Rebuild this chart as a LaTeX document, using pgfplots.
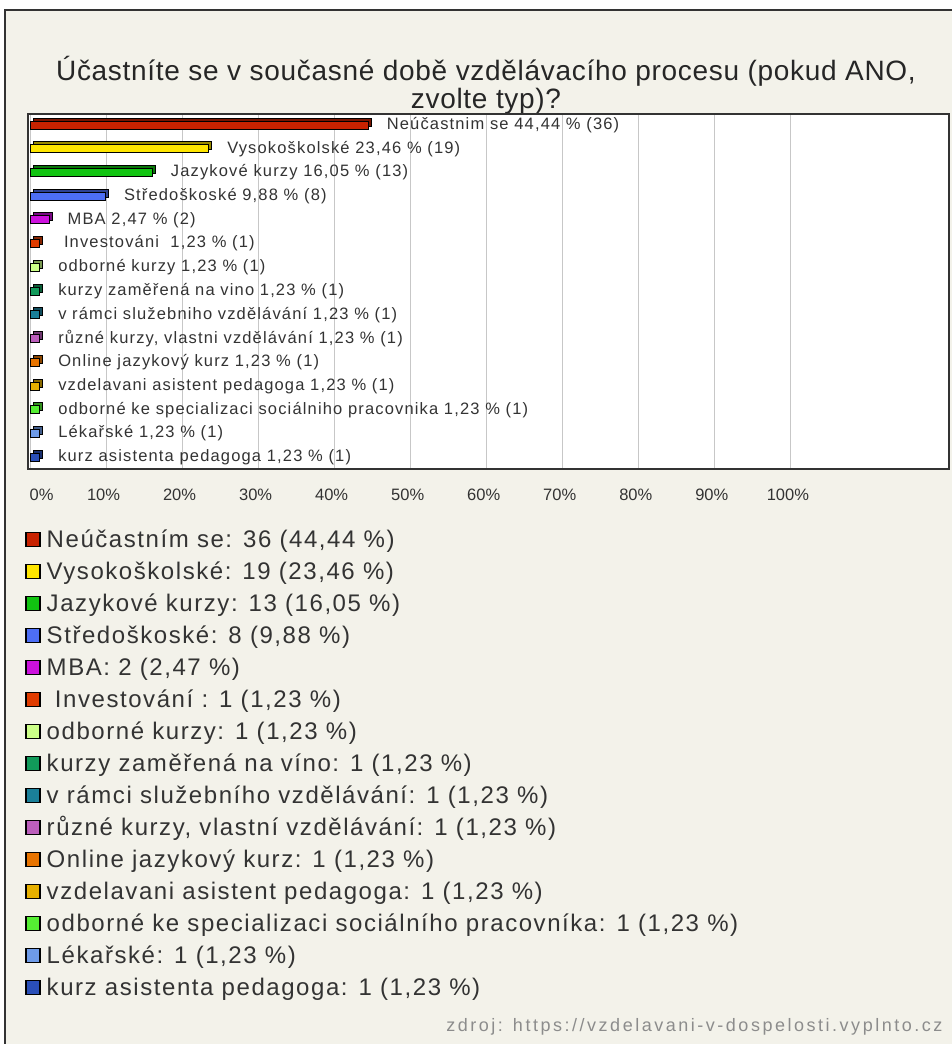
\documentclass[border=0pt]{standalone}
\usepackage{fontspec}
\setmainfont{Liberation Sans}
\newfontfamily\titlefont[LetterSpace=2.5]{Liberation Sans}
\newfontfamily\legfont[LetterSpace=6.5]{Liberation Sans}
\newfontfamily\barfont[LetterSpace=7]{Liberation Sans}
\newfontfamily\srcfont[LetterSpace=14]{Liberation Sans}
\usepackage{pgfplots}
\pgfplotsset{compat=1.18}
\definecolor{bg}{HTML}{F3F2EA}
\definecolor{cA}{HTML}{C82200}
\definecolor{cB}{HTML}{FFE600}
\definecolor{cC}{HTML}{11C411}
\definecolor{cD}{HTML}{4D6EF5}
\definecolor{cE}{HTML}{CC11DD}
\definecolor{cF}{HTML}{E03C00}
\definecolor{cG}{HTML}{CCFF88}
\definecolor{cH}{HTML}{119A5A}
\definecolor{cI}{HTML}{1A7F99}
\definecolor{cJ}{HTML}{BB5EBB}
\definecolor{cK}{HTML}{E87400}
\definecolor{cL}{HTML}{E6B000}
\definecolor{cM}{HTML}{55EE33}
\definecolor{cN}{HTML}{6E9BE8}
\definecolor{cO}{HTML}{2A4FB8}
\definecolor{txt}{HTML}{333333}
% #1 row, #2 value, #3 colour, #4 bar label, #5 legend text
\newcommand{\onebar}[5]{%
  \addplot[fill=#3!60!black, xshift=3pt, yshift=3pt, forget plot] coordinates {(#2,#1)};
  \addplot[fill=#3, nodes near coords, point meta=explicit symbolic] coordinates {(#2,#1) [#4]};
  \addlegendentry{#5}
}
\begin{document}
\begin{tikzpicture}[x=1pt,y=1pt]
\useasboundingbox (0,0) rectangle (952,-1044);
\fill[bg] (5,-10) rectangle (960,-1050);
\draw[line width=2pt, black!80] (5,-1050) -- (5,-10) -- (960,-10);
\node[font=\titlefont\fontsize{28}{28}\selectfont, align=center, text=black!85] at (486,-85)
  {Účastníte se v současné době vzdělávacího procesu (pokud ANO,\\ zvolte typ)?};
\begin{axis}[
  at={(28pt,-114pt)}, anchor=north west,
  scale only axis, width=921pt, height=355pt,
  xbar, bar width=8pt, bar shift=0pt,
  xmin=-0.33, xmax=120.8,
  ymin=-0.46, ymax=14.5, y dir=reverse,
  ytick=\empty,
  xtick={0,10,...,100},
  xticklabels={\hspace*{28pt}0\%,10\%,20\%,30\%,40\%,50\%,60\%,70\%,80\%,90\%,100\%},
  xticklabel style={font=\fontsize{16.5}{16}\selectfont, text=txt, yshift=-16pt, xshift=-3pt},
  major tick length=0pt,
  xmajorgrids, major grid style={draw=black!22, line width=1pt},
  axis line style={draw=black!80, line width=1.6pt},
  axis background/.style={fill=white},
  every axis plot/.append style={draw=black, line width=0.8pt},
  nodes near coords align={horizontal},
  every node near coord/.append style={font=\barfont\fontsize{16.5}{16}\selectfont, text=txt, inner sep=0pt, anchor=west, xshift=18pt},
  legend image code/.code={\draw[#1, draw=black, line width=1.3pt] (0pt,-4.5pt) rectangle (14pt,9.5pt);},
  legend style={at={(axis description cs:-0.003,-0.17)}, anchor=north west, draw=none, fill=none,
    font=\legfont\fontsize{24}{24}\selectfont, text=txt, row sep=7pt, column sep=5pt, inner sep=0pt,
    nodes={text height=17pt, text depth=6pt, inner sep=1pt}},
  legend cell align=left,
  clip=false,
]
\onebar{0}{44.44}{cA}{Neúčastnim se 44,44 \% (36)}{Neúčastním se: 36 (44,44 \%)}
\onebar{1}{23.46}{cB}{Vysokoškolské 23,46 \% (19)}{Vysokoškolské: 19 (23,46 \%)}
\onebar{2}{16.05}{cC}{Jazykové kurzy 16,05 \% (13)}{Jazykové kurzy: 13 (16,05 \%)}
\onebar{3}{9.88}{cD}{Středoškoské 9,88 \% (8)}{Středoškoské: 8 (9,88 \%)}
\onebar{4}{2.47}{cE}{MBA 2,47 \% (2)}{MBA: 2 (2,47 \%)}
\onebar{5}{1.23}{cF}{\ Investováni\ \ 1,23 \% (1)}{\ Investování : 1 (1,23 \%)}
\onebar{6}{1.23}{cG}{odborné kurzy 1,23 \% (1)}{odborné kurzy: 1 (1,23 \%)}
\onebar{7}{1.23}{cH}{kurzy zaměřená na vino 1,23 \% (1)}{kurzy zaměřená na víno: 1 (1,23 \%)}
\onebar{8}{1.23}{cI}{v rámci služebniho vzdělávání 1,23 \% (1)}{v rámci služebního vzdělávání: 1 (1,23 \%)}
\onebar{9}{1.23}{cJ}{různé kurzy, vlastni vzdělávání 1,23 \% (1)}{různé kurzy, vlastní vzdělávání: 1 (1,23 \%)}
\onebar{10}{1.23}{cK}{Online jazykový kurz 1,23 \% (1)}{Online jazykový kurz: 1 (1,23 \%)}
\onebar{11}{1.23}{cL}{vzdelavani asistent pedagoga 1,23 \% (1)}{vzdelavani asistent pedagoga: 1 (1,23 \%)}
\onebar{12}{1.23}{cM}{odborné ke specializaci sociálniho pracovnika 1,23 \% (1)}{odborné ke specializaci sociálního pracovníka: 1 (1,23 \%)}
\onebar{13}{1.23}{cN}{Lékařské 1,23 \% (1)}{Lékařské: 1 (1,23 \%)}
\onebar{14}{1.23}{cO}{kurz asistenta pedagoga 1,23 \% (1)}{kurz asistenta pedagoga: 1 (1,23 \%)}
\end{axis}
\node[anchor=east, font=\srcfont\fontsize{18}{18}\selectfont, text=black!45] at (946,-1027)
  {zdroj: https://vzdelavani-v-dospelosti.vyplnto.cz};
\end{tikzpicture}
\end{document}
